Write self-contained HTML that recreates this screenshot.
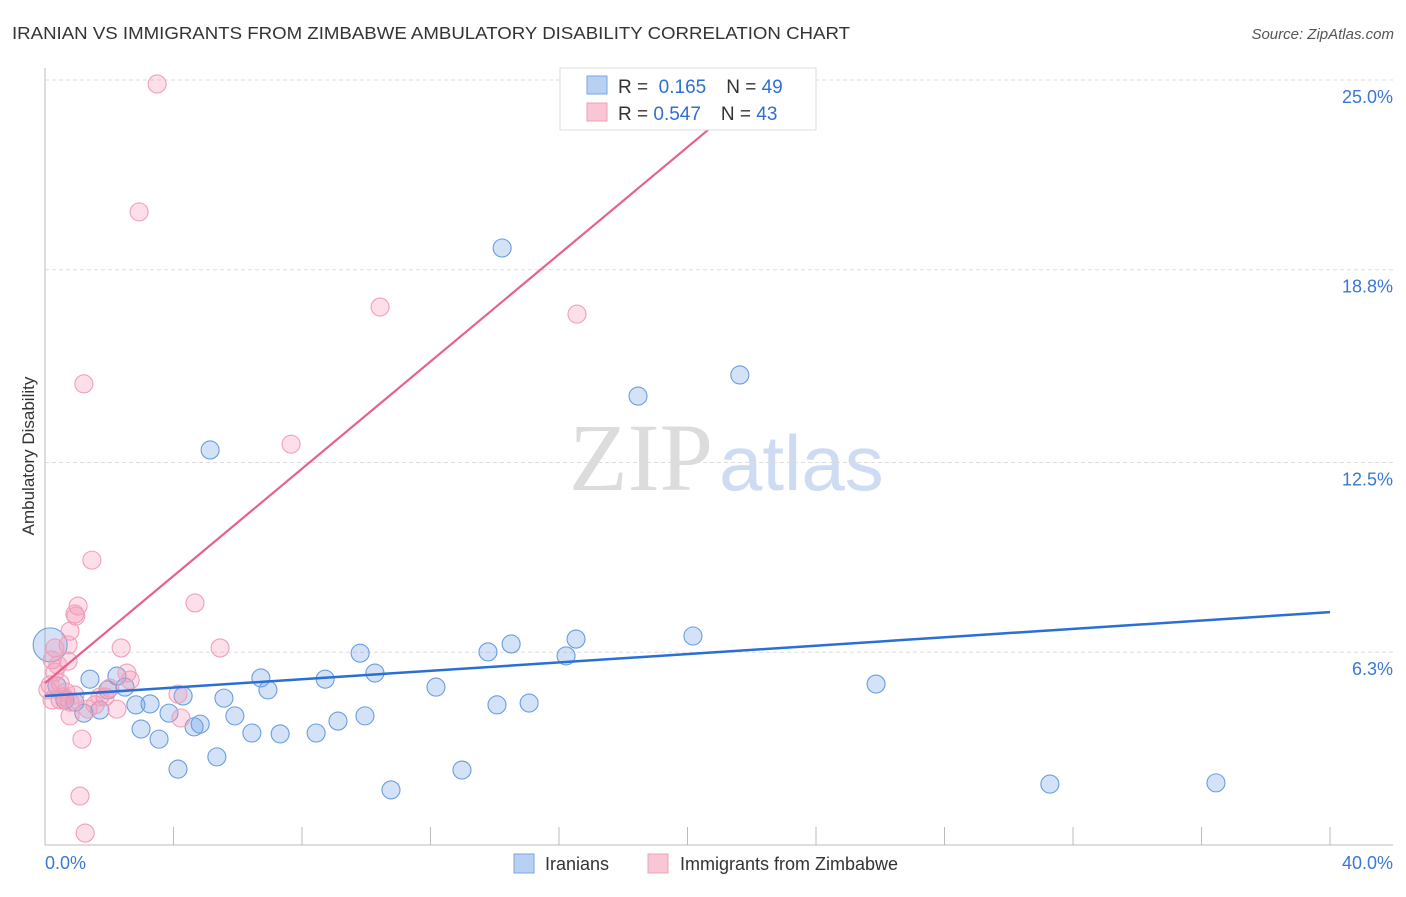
<!DOCTYPE html>
<html><head><meta charset="utf-8"><style>
body{margin:0;background:#fff;font-family:"Liberation Sans",sans-serif;}
</style></head><body>
<svg width="1406" height="892" xmlns="http://www.w3.org/2000/svg" style="font-family:'Liberation Sans',sans-serif">
<text x="12" y="39" font-size="17.5" fill="#333" textLength="838" lengthAdjust="spacingAndGlyphs">IRANIAN VS IMMIGRANTS FROM ZIMBABWE AMBULATORY DISABILITY CORRELATION CHART</text>
<text x="1394" y="39" font-size="15" fill="#555" text-anchor="end" font-style="italic">Source: ZipAtlas.com</text>
<text x="713" y="490" font-size="96" fill="#dcdcdc" text-anchor="end" font-family="Liberation Serif,serif">ZIP</text>
<text x="719" y="490" font-size="78" fill="#cddcf2">atlas</text>
<g id="grid"></g>
<line x1="45" y1="68" x2="45" y2="845" stroke="#bbb"/>
<line x1="45" y1="845" x2="1393" y2="845" stroke="#bbb"/>
<g id="xticks"></g>
<text x="34" y="456" font-size="17" fill="#333" text-anchor="middle" transform="rotate(-90 34 456)">Ambulatory Disability</text>
<text x="45" y="869" font-size="18" fill="#3b78d6">0.0%</text>
<text x="1393" y="869" font-size="18" fill="#3b78d6" text-anchor="end">40.0%</text>
<g id="pts"></g>
<g id="lines"></g>
<g>
<rect x="560" y="68" width="256" height="62" fill="#fff" stroke="#ddd"/>
<rect x="587" y="76" width="20" height="18" fill="#b8d0f2" stroke="#7aa6e4"/>
<rect x="587" y="103" width="20" height="18" fill="#f8c6d5" stroke="#f0a0b8"/>
<text x="618" y="93" font-size="19" fill="#333">R = <tspan fill="#2f6fd0">&#160;0.165</tspan><tspan dx="20">N = </tspan><tspan fill="#2f6fd0">49</tspan></text>
<text x="618" y="120" font-size="19" fill="#333">R = <tspan fill="#2f6fd0">0.547</tspan><tspan dx="20">N = </tspan><tspan fill="#2f6fd0">43</tspan></text>
</g>
<g>
<rect x="514" y="854" width="20" height="19" fill="#b8d0f2" stroke="#7aa6e4"/>
<text x="545" y="870" font-size="18" fill="#333">Iranians</text>
<rect x="648" y="854" width="20" height="19" fill="#f8c6d5" stroke="#f0a0b8"/>
<text x="680" y="870" font-size="18" fill="#333">Immigrants from Zimbabwe</text>
</g>
</svg>
<script>
const yTicks=[25.0,18.8,12.5,6.3];
const yTickLabels=["25.0%","18.8%","12.5%","6.3%"];
const blueX=[0.16,1.40,1.71,1.21,2.49,2.24,1.96,2.83,3.27,2.99,3.55,3.86,4.14,4.30,4.64,4.83,5.14,5.35,5.57,5.91,6.44,6.72,6.94,7.32,8.44,8.72,9.12,9.81,9.96,10.27,10.77,12.17,12.98,13.79,14.07,14.23,14.51,15.07,16.22,16.53,18.46,20.17,21.63,25.87,31.28,36.45,0.37,0.62,0.93];
const blueY=[6.54,5.42,4.41,4.31,5.16,5.52,5.07,4.58,4.61,3.79,3.46,4.31,2.48,4.87,3.86,3.95,12.91,2.88,4.80,4.22,3.66,5.46,5.07,3.63,3.66,5.42,4.05,6.27,4.22,5.62,1.80,5.16,2.45,6.31,4.58,19.51,6.57,4.64,6.18,6.73,14.67,6.83,15.36,5.26,1.99,2.03,5.20,4.74,4.67];
const pinkX=[3.49,2.93,1.21,10.43,16.56,7.66,1.46,4.67,1.03,0.93,0.96,0.78,0.72,5.45,2.37,0.31,0.22,0.72,2.55,0.31,0.47,0.16,2.02,4.14,0.59,0.78,0.47,1.87,2.24,1.34,4.23,0.78,1.15,1.09,1.25,0.22,0.09,1.56,0.65,2.65,0.40,0.93,1.71];
const pinkY=[24.87,20.69,15.07,17.58,17.35,13.10,9.31,7.91,7.81,7.55,7.48,6.99,6.54,6.44,6.44,6.44,6.05,6.01,5.62,5.65,5.29,5.23,5.13,4.93,4.84,4.67,4.74,4.84,4.44,4.44,4.15,4.22,3.46,1.60,0.39,4.74,5.07,4.58,5.00,5.39,5.88,4.90,4.84];
const blueLine=[[0,4.87],[40,7.61]];
const pinkLine=[[0,5.29],[20.95,23.64]];
const NS="http://www.w3.org/2000/svg";
const X=v=>45+v*32.125, Y=v=>80+(25-v)*30.6;
function mk(t,a,p){const e=document.createElementNS(NS,t);for(const k in a)e.setAttribute(k,a[k]);document.getElementById(p).appendChild(e);return e;}
yTicks.forEach((t,i)=>{
 const l=mk('line',{x1:45,x2:1393,y1:Y(t),y2:Y(t),stroke:'#ddd','stroke-dasharray':'4,3'},'grid');
 
 
 const tx=mk('text',{x:1393,y:Y(t)+23,'font-size':18,fill:'#3b78d6','text-anchor':'end'},'grid');
 tx.textContent=yTickLabels[i];
 
 
});
for(let i=1;i<=10;i++){
 const l=mk('line',{x1:X(i*4),x2:X(i*4),y1:827,y2:845,stroke:'#bbb'},'xticks');
 
 
}
blueX.forEach((x,i)=>{
 const c=mk('circle',{cx:X(x),cy:Y(blueY[i]),r:i==0?17:9,fill:'rgba(110,160,230,0.3)',stroke:'#6a9de0','stroke-width':1.1},'pts');
 
 
});
pinkX.forEach((x,i)=>{
 const c=mk('circle',{cx:X(x),cy:Y(pinkY[i]),r:9,fill:'rgba(245,150,180,0.3)',stroke:'#f0a0b8','stroke-width':1.1},'pts');
 
 
});
const bl=mk('line',{x1:X(blueLine[0][0]),y1:Y(blueLine[0][1]),x2:X(blueLine[1][0]),y2:Y(blueLine[1][1]),stroke:'#2a6fd6','stroke-width':2.5},'lines');


const pl=mk('line',{x1:X(pinkLine[0][0]),y1:Y(pinkLine[0][1]),x2:X(pinkLine[1][0]),y2:Y(pinkLine[1][1]),stroke:'#e8608c','stroke-width':2.2},'lines');


</script>
</body></html>
